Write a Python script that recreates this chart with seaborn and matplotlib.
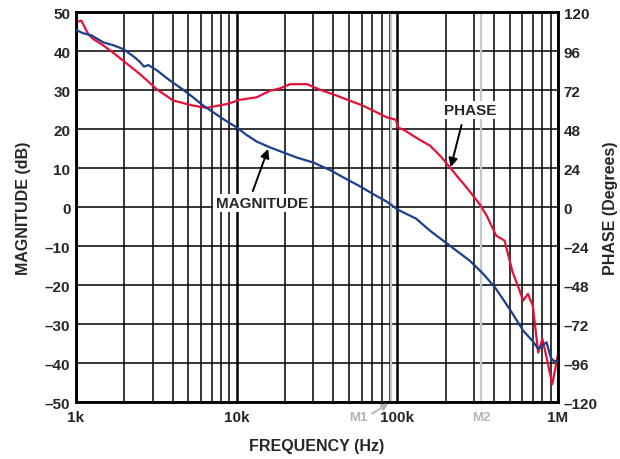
import numpy as np
import pandas as pd
import seaborn as sns
import matplotlib.pyplot as plt

# magnitude trace (Hz, dB)
mag_freq = [1000, 1100, 1250, 1480, 1700, 1970, 2300, 2500, 2650, 2820, 3200, 3850, 4600,
            5400, 6200, 7200, 8500, 10000, 11500, 13300, 16100, 19500, 23600, 30000,
            38000, 48000, 58000, 70800, 85000, 101000, 131000, 160000, 212000, 283000,
            340000, 405000, 501000, 607000, 700000, 753000, 800000, 849000, 900000,
            934000, 1000000]
mag_db = [45.4, 44.6, 44.0, 42.2, 41.5, 40.5, 38.5, 37.2, 36.0, 36.4, 35.0, 32.4, 30.2,
          28.0, 26.0, 24.2, 22.2, 20.4, 18.5, 16.8, 15.3, 14.0, 12.7, 11.4,
          9.5, 7.2, 5.4, 3.3, 1.5, -0.7, -3.0, -6.1, -9.9, -13.8,
          -17.0, -20.6, -26.2, -31.7, -34.5, -36.4, -35.5, -34.7, -38.5,
          -39.4, -39.5]

# phase trace (Hz, degrees)
ph_freq = [1000, 1080, 1190, 1280, 1480, 1670, 1970, 2500, 3170, 4030, 5370, 6500,
           8700, 10500, 13300, 16100, 18600, 21500, 27400, 33000, 42000, 61000,
           86000, 98000, 101000, 112000, 125000, 140000, 160000, 185000, 212000,
           240000, 270000, 325000, 360000, 413000, 465000, 522000, 570000, 607000,
           650000, 697000, 753000, 800000, 860000, 921000, 960000, 1000000]
ph_deg = [113.8, 114.7, 106.5, 103.4, 99.4, 95.6, 90.0, 81.8, 72.6, 65.5, 62.4, 61.0,
          63.4, 66.0, 67.5, 71.5, 73.0, 75.6, 75.6, 72.2, 68.5, 62.4,
          55.2, 53.7, 49.0, 47.0, 43.9, 41.0, 37.7, 31.5, 24.5,
          18.0, 12.0, 1.8, -5.3, -17.7, -20.7, -40.1, -50.0, -57.6,
          -53.5, -60.7, -89.5, -81.2, -95.0, -109.0, -100.0, -90.5]

mag_ticks = [-50, -40, -30, -20, -10, 0, 10, 20, 30, 40, 50]
mag_labels = ["–50", "–40", "–30", "–20", "–10", "0", "10", "20", "30", "40", "50"]
ph_ticks = [-120, -96, -72, -48, -24, 0, 24, 48, 72, 96, 120]
ph_labels = ["–120", "–96", "–72", "–48", "–24", "0", "24", "48", "72", "96", "120"]
freq_ticks = [1e3, 1e4, 1e5, 1e6]
freq_labels = ["1k", "10k", "100k", "1M"]
marker_freq = {"M1": 91000, "M2": 334000}

sns.set_style("white")
plt.rcParams['font.family'] = ['Liberation Sans', 'DejaVu Sans']
plt.rcParams['font.weight'] = 'bold'

mag_df = pd.DataFrame({"freq": mag_freq, "mag": mag_db})
ph_df = pd.DataFrame({"freq": ph_freq, "phase": ph_deg})

fig = plt.figure(figsize=(6.2, 4.6), dpi=100)
ax2 = fig.add_axes([0.1226, 0.1239, 0.7774, 0.8478])
ax = ax2.twinx()
ax2.yaxis.tick_right()
ax2.yaxis.set_label_position("right")
ax.yaxis.tick_left()
ax.yaxis.set_label_position("left")
ax.set_zorder(ax2.get_zorder() + 1)
ax.patch.set_visible(False)

ax2.set_xscale("log")
ax2.set_xlim(1e3, 1e6)
ax2.set_ylim(-120, 120)
ax.set_ylim(-50, 50)

# grid on the bottom axes
ax2.grid(True, which="major", axis="x", color="black", lw=1.8)
ax2.grid(True, which="minor", axis="x", color="black", lw=1.1)
ax2.grid(True, which="major", axis="y", color="black", lw=1.1)
for name, f in marker_freq.items():
    ax2.axvline(f, color="#c8c8c8", lw=1.6, zorder=1.5)

sns.lineplot(data=ph_df, x="freq", y="phase", ax=ax2, color="#e2123a", lw=1.6, zorder=3)
sns.lineplot(data=mag_df, x="freq", y="mag", ax=ax, color="#1b3f8c", lw=1.6, zorder=3)

ax2.set_xticks(freq_ticks)
ax2.set_xticklabels(freq_labels)
ax2.set_yticks(ph_ticks)
ax2.set_yticklabels(ph_labels)
ax.set_yticks(mag_ticks)
ax.set_yticklabels(mag_labels)
for a in (ax, ax2):
    a.tick_params(axis="both", which="both", length=0, labelsize=11, pad=4)
    for s in a.spines.values():
        s.set_color("black")
        s.set_linewidth(1.8)
ax2.tick_params(axis="x", pad=6)

ax.set_xlabel("")
ax2.set_xlabel("FREQUENCY (Hz)", fontsize=11.5, fontweight="bold", labelpad=10)
ax.set_ylabel("MAGNITUDE (dB)", fontsize=11.5, fontweight="bold", labelpad=10)
ax2.set_ylabel("PHASE (Degrees)", fontsize=11.5, fontweight="bold", labelpad=4)

# marker labels under the axis
ax.annotate("M1", xy=(57000, -0.038), xycoords=("data", "axes fraction"),
            ha="center", va="center", color="#b4b4b4", fontsize=9.5, fontweight="bold",
            annotation_clip=False)
ax.annotate("M2", xy=(marker_freq["M2"], -0.038), xycoords=("data", "axes fraction"),
            ha="center", va="center", color="#b4b4b4", fontsize=9.5, fontweight="bold",
            annotation_clip=False)
ax.annotate("", xy=(88000, -0.004), xycoords=("data", "axes fraction"),
            xytext=(69500, -0.03), textcoords=("data", "axes fraction"), annotation_clip=False,
            arrowprops=dict(arrowstyle="-|>", color="#b4b4b4", lw=1.3, mutation_scale=10,
                            shrinkA=0, shrinkB=0))

box = dict(boxstyle="square,pad=0.15", fc="white", ec="none")
arrow = dict(arrowstyle="-|>", color="black", lw=1.4, mutation_scale=13, shrinkA=0, shrinkB=0)
ax.text(14300, 1.0, "MAGNITUDE", ha="center", va="center", fontsize=11,
        fontweight="bold", bbox=box)
ax.annotate("", xy=(15700, 14.9), xytext=(12600, 4.1), arrowprops=arrow)
ax2.text(283000, 59.7, "PHASE", ha="center", va="center", fontsize=11,
         fontweight="bold", bbox=box)
ax2.annotate("", xy=(215000, 24.5), xytext=(251000, 50.5), arrowprops=arrow)

fig.savefig("out.png", dpi=100)
